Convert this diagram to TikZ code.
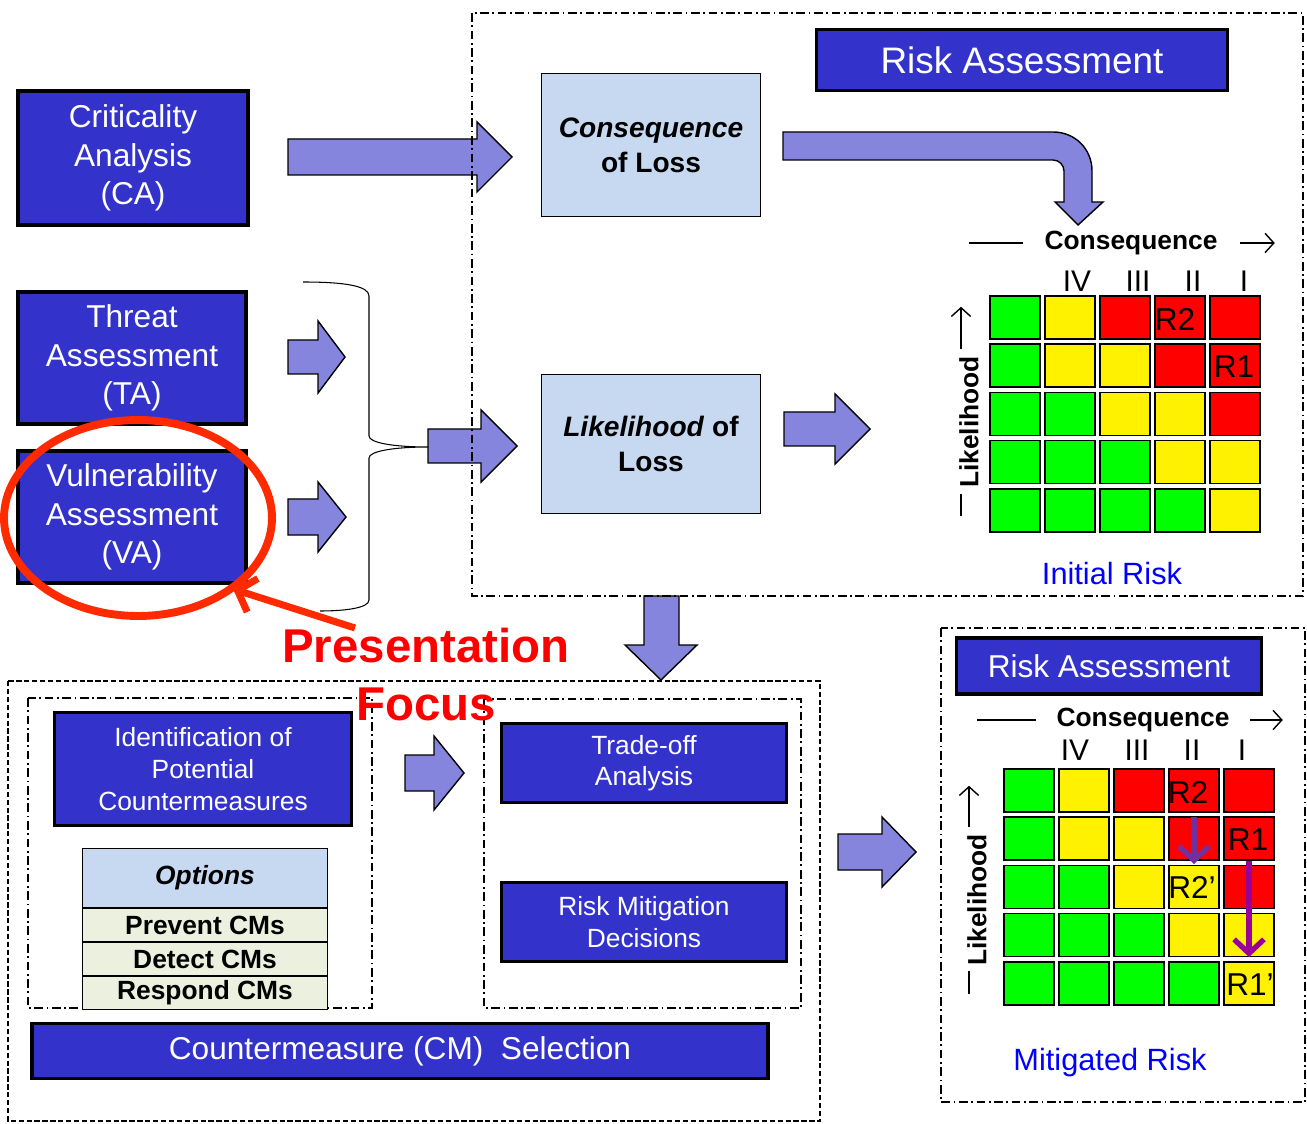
\documentclass[tikz,border=0pt]{standalone}
\usepackage{fontspec}
\setmainfont{Liberation Sans}
\usetikzlibrary{arrows.meta,positioning}

\definecolor{boxblue}{HTML}{3333CC}
\definecolor{paleblue}{HTML}{C6D9F1}
\definecolor{palegreen}{HTML}{EBF1DE}
\definecolor{arrowblue}{HTML}{8585DD}
\definecolor{ringred}{HTML}{FF2A00}
\definecolor{focusred}{HTML}{FF0000}
\definecolor{riskblue}{HTML}{0000FF}
\definecolor{shiftA}{HTML}{7030A0}
\definecolor{shiftB}{HTML}{990099}
\colorlet{cellG}{green}
\colorlet{cellY}{yellow}
\colorlet{cellR}{red}

\newcommand{\boxfont}{\fontsize{18}{21.8}\selectfont}
\newcommand{\smallboxfont}{\fontsize{15}{18}\selectfont}
\newcommand{\axisfont}{\fontsize{15}{18}\selectfont\bfseries}
\newcommand{\romanfont}{\fontsize{17}{20}\selectfont}

\newcommand{\rarrow}[6]{%
  \draw[blockarrow] (#1,#2-#5) -- (#3,#2-#5) -- (#3,#2-#6) -- (#4,#2)
    -- (#3,#2+#6) -- (#3,#2+#5) -- (#1,#2+#5) -- cycle;}

\newcommand{\riskgrid}[3]{%
  \foreach \row/\cols in {1/{G,Y,R,R,R},2/{G,Y,Y,R,R},3/{G,G,Y,Y,R},4/{G,G,G,Y,Y},5/{G,G,G,G,Y}}
    \foreach \c [count=\col] in \cols
      \node[cell, fill=cell\c] (#1-\row-\col) at ({#2+25+55*(\col-1)},{#3+21.5+48.2*(\row-1)}) {};}

\begin{document}
\begin{tikzpicture}[x=0.02cm, y=-0.02cm,
    darkbox/.style={draw=black, line width=2.2pt, fill=boxblue, text=white,
      align=center, inner sep=0pt, font=\boxfont},
    lightbox/.style={draw=black, line width=0.6pt, fill=paleblue, align=center,
      inner sep=0pt, minimum width=4.38cm, font=\fontsize{16}{19.8}\selectfont\bfseries},
    optrow/.style={draw=black, line width=0.6pt, fill=palegreen, inner sep=0pt,
      minimum width=4.9cm, minimum height=0.66cm, font=\axisfont},
    blockarrow/.style={draw=black, line width=0.8pt, fill=arrowblue},
    dashdot/.style={line width=0.9pt, dash pattern=on 5pt off 2pt on 1pt off 2pt},
    cell/.style={draw=black, line width=1pt, minimum width=1cm, minimum height=0.86cm, inner sep=0pt},
    axislabel/.style={font=\axisfont, inner sep=0pt},
    axisline/.style={line width=0.8pt},
    axisarrow/.style={line width=0.8pt, -{Straight Barb[length=5pt,width=11pt]}},
    shiftarrow/.style={line width=3pt, -{Straight Barb[length=8pt,width=17pt]}}]

  \useasboundingbox[fill=white] (0,0) rectangle (1307,1124);

  \rarrow{288}{157}{477}{512}{18}{35}
  \rarrow{288}{357}{318}{345}{17}{36}
  \rarrow{288}{517}{318}{346}{18}{35}
  \rarrow{428}{446}{481}{517}{17}{36}
  \rarrow{784}{429}{835}{870}{17}{35}
  \rarrow{405}{773}{434}{464}{18}{37}
  \rarrow{838}{852}{882}{916}{18}{35}
  \draw[blockarrow] (644,596) -- (679,596) -- (679,645) -- (697,645) -- (661,680)
    -- (625,645) -- (644,645) -- cycle;
  \draw[blockarrow] (783,132) -- (1053,132) .. controls (1075,132) and (1092,149) .. (1092,171)
    -- (1092,202) -- (1103,202) -- (1078,225) -- (1055,202) -- (1064,202) -- (1064,171)
    .. controls (1064,165) and (1059,160) .. (1053,160) -- (783,160) -- cycle;

  \draw[line width=0.6pt] (303,282) .. controls (345,282) and (369,286) .. (369,296) -- (369,436)
    .. controls (369,443) and (395,447) .. (428,447) .. controls (395,447) and (369,451) .. (369,458)
    -- (369,600) .. controls (369,608) and (345,611) .. (320,611);

  \draw[dashdot] (472,13) rectangle (1303,596);
  \draw[dashdot] (941,628) rectangle (1305,1102);
  \draw[line width=0.9pt, dash pattern=on 3pt off 1.5pt] (8,681) rectangle (820,1121);
  \draw[dashdot] (28,698) rectangle (372,1008);
  \draw[dashdot] (484,699) rectangle (801,1008);

  \node[darkbox, minimum width=4.6cm, minimum height=2.68cm] (ca) at (133,158) {Criticality\\Analysis\\(CA)};
  \node[darkbox, minimum width=4.56cm, minimum height=2.64cm] (ta) at (132,358) {Threat\\Assessment\\(TA)};
  \node[darkbox, minimum width=4.56cm, minimum height=2.64cm] (va) at (132,517) {Vulnerability\\Assessment\\(VA)};

  \node[darkbox, minimum width=8.22cm, minimum height=1.22cm, font=\fontsize{21}{25}\selectfont] (ra1) at (1022,60) {Risk Assessment};
  \node[lightbox, minimum height=2.86cm] (col) at (651,145) {\textit{Consequence}\\of Loss};
  \node[lightbox, minimum height=2.78cm] (lol) at (651,444) {\textit{Likelihood} of\\Loss};

  \riskgrid{ini}{990}{296}
  \node[axislabel] (con1) at (1131,243) {Consequence};
  \draw[axisline] ([xshift=-0.42cm]con1.west) -- ++(-54,0);
  \draw[axisarrow] ([xshift=0.44cm]con1.east) -- ++(35,0);
  \node[axislabel, rotate=90] (lik1) at (969,422) {Likelihood};
  \draw[axisline] ([shift={(-8,6)}]lik1.west) -- ++(0,22);
  \draw[axisarrow] ([shift={(-8,-7)}]lik1.east) -- ++(0,-42);
  \node[font=\romanfont] (iv1) at (1077,281) {IV};
  \node[font=\romanfont] (iii1) at (1138,281) {III};
  \node[font=\romanfont] (ii1) at (1193,281) {II};
  \node[font=\romanfont] (i1) at (1244,281) {I};
  \node[font=\boxfont] (r2a) at (1175,319) {R2};
  \node[font=\boxfont] (r1a) at (1234,367) {R1};
  \node[text=riskblue, font=\fontsize{17.5}{21}\selectfont] (inirisk) at (1112,574) {Initial Risk};

  \node[darkbox, minimum width=6.1cm, minimum height=1.12cm] (ra2) at (1109,666) {Risk Assessment};
  \riskgrid{mit}{1004}{769}
  \node[axislabel] (con2) at (1143,720) {Consequence};
  \draw[axisline] ([xshift=-0.4cm]con2.west) -- ++(-59,0);
  \draw[axisarrow] ([xshift=0.4cm]con2.east) -- ++(33,0);
  \node[axislabel, rotate=90] (lik2) at (977,900) {Likelihood};
  \draw[axisline] ([shift={(-8,5)}]lik2.west) -- ++(0,23);
  \draw[axisarrow] ([shift={(-8,-7)}]lik2.east) -- ++(0,-41);
  \node[font=\romanfont] (iv2) at (1075,750) {IV};
  \node[font=\romanfont] (iii2) at (1137,750) {III};
  \node[font=\romanfont] (ii2) at (1192,750) {II};
  \node[font=\romanfont] (i2) at (1242,750) {I};
  \node[font=\boxfont] (r2b) at (1188,792) {R2};
  \node[font=\boxfont] (r1b) at (1248,840) {R1};
  \node[font=\boxfont] (r2c) at (1192,887) {R2’};
  \node[font=\boxfont] (r1c) at (1250,985) {R1’};
  \coordinate (r2from) at (1194,817);
  \coordinate (r2to) at (1194,864);
  \coordinate (r1from) at (1249,861);
  \coordinate (r1to) at (1249,957);
  \draw[shiftarrow, shiftA] (r2from) -- (r2to);
  \draw[shiftarrow, shiftB] (r1from) -- (r1to);
  \node[text=riskblue, font=\fontsize{17.5}{21}\selectfont] (mitrisk) at (1110,1063) {Mitigated Risk};

  \node[darkbox, minimum width=5.94cm, minimum height=2.26cm, font=\smallboxfont] (idcm) at (203,769) {Identification of\\Potential\\Countermeasures};
  \node[draw=black, line width=0.6pt, fill=paleblue, inner sep=0pt, minimum width=4.9cm,
    minimum height=1.18cm, font=\axisfont] (opt) at (205,878) {\textit{Options}};
  \node[optrow, below=0pt of opt] (prevent) {Prevent CMs};
  \node[optrow, below=0pt of prevent] (detect) {Detect CMs};
  \node[optrow, below=0pt of detect] (respond) {Respond CMs};
  \node[darkbox, minimum width=5.7cm, minimum height=1.58cm, font=\smallboxfont] (trade) at (644,763) {Trade-off\\Analysis};
  \node[darkbox, minimum width=5.7cm, minimum height=1.58cm, font=\smallboxfont] (rmd) at (644,922) {Risk Mitigation\\Decisions};
  \node[darkbox, minimum width=14.72cm, minimum height=1.1cm] (cmsel) at (400,1051) {Countermeasure (CM)~~Selection};

  \draw[ringred, line width=4.5pt] (138,518) ellipse [x radius=2.68cm, y radius=1.96cm];
  \node[font=\fontsize{27}{32}\selectfont\bfseries, text=focusred] (pres) at (426,646) {Presentation};
  \node[font=\fontsize{27}{32}\selectfont\bfseries, text=focusred] (focus) at (426,704) {Focus};
  \coordinate (ptrfrom) at (355,628);
  \coordinate (ptrto) at (233,589);
  \draw[ringred, line width=4pt, -{Straight Barb[length=9pt,width=20pt]}] (ptrfrom) -- (ptrto);
\end{tikzpicture}
\end{document}
